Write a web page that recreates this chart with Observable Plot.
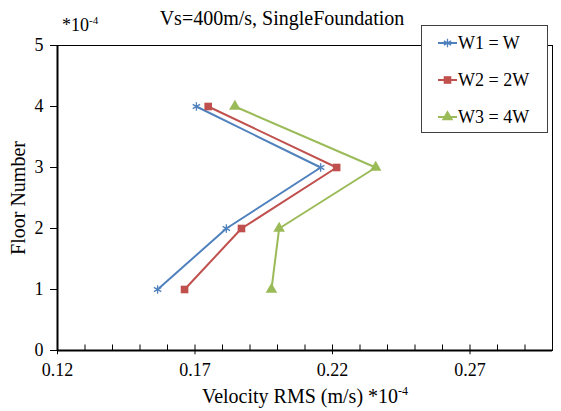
<!DOCTYPE html>
<html><head><meta charset="utf-8">
<script src="https://cdn.jsdelivr.net/npm/d3@7"></script>
<script src="https://cdn.jsdelivr.net/npm/@observablehq/plot@0.6"></script>
<style>
body{margin:0;background:#fff;}
svg, svg text{font-family:"Liberation Serif","Times New Roman",serif !important;}
</style>
</head><body><div id="chart"></div>
<script>
const floors = [1, 2, 3, 4];
const seriesNames = ["W1 = W", "W2 = 2W", "W3 = 4W"];
const w1 = [0.1564, 0.1814, 0.2157, 0.1705];
const w2 = [0.1662, 0.1869, 0.2215, 0.1748];
const w3 = [0.1978, 0.2006, 0.2357, 0.1845];
const colors = ["#4F81BD", "#C0504D", "#9BBB59"];
const symbols = ["asterisk", "square", "triangle"];
const xMajor = [0.12, 0.17, 0.22, 0.27];
const xMinor = [0.13, 0.14, 0.15, 0.16, 0.18, 0.19, 0.20, 0.21, 0.23, 0.24, 0.25, 0.26, 0.28, 0.29];
const yTicks = [0, 1, 2, 3, 4, 5];
const titleText = "Vs=400m/s, SingleFoundation";
const xLabel = "Velocity RMS (m/s) *10";
const yLabel = "Floor Number";
const expText = "-4";

const seriesValues = [w1, w2, w3];
const data = [];
seriesNames.forEach((s, i) => floors.forEach((f, j) => data.push({series: s, floor: f, v: seriesValues[i][j]})));

const svgEl = Plot.plot({
  width: 561, height: 411,
  marginLeft: 57, marginRight: 9, marginTop: 45, marginBottom: 61,
  style: {fontSize: "18px", color: "#000", background: "#fff", overflow: "visible"},
  x: {domain: [0.12, 0.30], label: null},
  y: {domain: [0, 5], label: null},
  color: {domain: seriesNames, range: colors},
  symbol: {domain: seriesNames, range: symbols},
  marks: [
    Plot.frame({stroke: "#000", strokeWidth: 1}),
    Plot.ruleX(xMinor, {x: d => d, y1: 0, y2: 0.09, stroke: "#000", strokeWidth: 1}),
    Plot.ruleX(xMajor, {x: d => d, y1: -0.07, y2: 0.09, stroke: "#000", strokeWidth: 1}),
    Plot.axisX(xMajor, {tickSize: 0, tickPadding: 13, tickFormat: d3.format(".2f"), fontSize: 18}),
    Plot.axisY(yTicks, {tickSize: 7, tickPadding: 7, tickFormat: d3.format("d"), fontSize: 18}),
    Plot.ruleY([0], {stroke: "#000", strokeWidth: 2}),
    Plot.ruleX([0.12], {stroke: "#000", strokeWidth: 2}),
    Plot.line(data, {x: "v", y: "floor", z: "series", stroke: "series", strokeWidth: 2}),
    Plot.dot(data.filter(d => d.series === seriesNames[0]), {x: "v", y: "floor", symbol: "series", stroke: "series", r: 4, strokeWidth: 1.3}),
    Plot.dot(data.filter(d => d.series !== seriesNames[0]), {x: "v", y: "floor", symbol: "series", fill: "series", stroke: "none", r: 4.3})
  ]
});
document.getElementById("chart").appendChild(svgEl);

const svg = d3.select(svgEl);
const serif = '"Liberation Serif", "Times New Roman", serif';
// title
svg.append("text").attr("x", 282).attr("y", 25).attr("text-anchor", "middle")
  .style("font-family", serif).style("font-size", "20px").attr("fill", "#000").text(titleText);
// top-left multiplier
const mt = svg.append("text").attr("x", 62).attr("y", 31).attr("text-anchor", "start")
  .style("font-family", serif).style("font-size", "18px").attr("fill", "#000");
mt.append("tspan").text("*10");
mt.append("tspan").attr("dy", -7).style("font-size", "11px").text(expText);
// x label
const xl = svg.append("text").attr("x", 305).attr("y", 402.5).attr("text-anchor", "middle")
  .style("font-family", serif).style("font-size", "20px").attr("fill", "#000");
xl.append("tspan").text(xLabel);
xl.append("tspan").attr("dy", -8).style("font-size", "12px").text(expText);
// y label
svg.append("text").attr("transform", "translate(25,198) rotate(-90)").attr("text-anchor", "middle")
  .style("font-family", serif).style("font-size", "20px").attr("fill", "#000").text(yLabel);
// legend
const lg = svg.append("g");
lg.append("rect").attr("x", 421.5).attr("y", 25.5).attr("width", 126).attr("height", 107)
  .attr("fill", "#fff").attr("stroke", "#404040").attr("stroke-width", 1);
const symMap = {asterisk: d3.symbolAsterisk, square: d3.symbolSquare, triangle: d3.symbolTriangle};
seriesNames.forEach((s, i) => {
  const cy = 43 + i * 37;
  lg.append("line").attr("x1", 438).attr("x2", 457).attr("y1", cy).attr("y2", cy)
    .attr("stroke", colors[i]).attr("stroke-width", 2);
  const p = d3.symbol(symMap[symbols[i]], Math.PI * (i === 0 ? 16 : 18.5))();
  lg.append("path").attr("d", p).attr("transform", `translate(447.5,${cy})`)
    .attr("fill", i === 0 ? "none" : colors[i]).attr("stroke", i === 0 ? colors[i] : "none").attr("stroke-width", 1.3);
  lg.append("text").attr("x", 458).attr("y", cy + 6).attr("text-anchor", "start")
    .style("font-family", serif).style("font-size", "18px").attr("fill", "#000").text(s);
});
</script>
</body></html>
